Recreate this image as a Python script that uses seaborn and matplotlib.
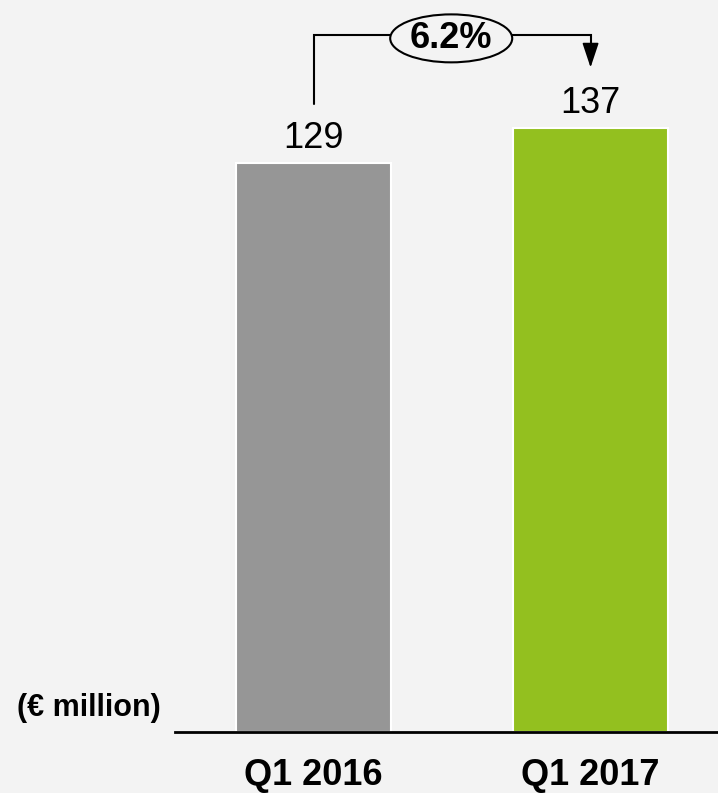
import matplotlib
matplotlib.use("Agg")
import matplotlib.pyplot as plt
from matplotlib.patches import Ellipse
import seaborn as sns
import pandas as pd

## chart data
quarters = ["Q1 2016", "Q1 2017"]
values = [129, 137]
growth_label = "6.2%"
unit_label = "(€ million)"
bar_colors = ["#969696", "#93c01f"]

bg = "#f3f3f3"

sns.set_theme(style="white")
plt.rcParams['font.family'] = ['Liberation Sans', 'DejaVu Sans']
plt.rcParams['text.color'] = 'black'

df = pd.DataFrame({"quarter": quarters, "value": values})

fig = plt.figure(figsize=(7.18, 7.93), dpi=100, facecolor=bg)
ax = fig.add_axes([175 / 718, 61 / 793, 543 / 718, 732 / 793])
ax.set_facecolor(bg)

sns.barplot(data=df, x="quarter", y="value", hue="quarter", palette=bar_colors,
            saturation=1, width=0.56, edgecolor="white", linewidth=1.5,
            legend=False, ax=ax)

for cont in ax.containers:
    ax.bar_label(cont, fmt="%d", padding=5, fontsize=26, color="black")

ax.set_xlim(-0.5, 1.46)
ax.set_ylim(0, 166)
ax.set_xlabel("")
ax.set_ylabel("")
ax.set_yticks([])
ax.tick_params(axis="x", length=0, pad=19)
for lbl in ax.get_xticklabels():
    lbl.set_fontsize(26)
    lbl.set_fontweight("bold")
    lbl.set_color("black")

for side in ["top", "right", "left"]:
    ax.spines[side].set_visible(False)
ax.spines["bottom"].set_linewidth(2)
ax.spines["bottom"].set_color("black")

# growth bracket between the two bars
y_top = 158
ax.plot([0, 0, 1, 1], [142.5, y_top, y_top, 155], color="black", lw=1.5,
        clip_on=False, solid_joinstyle="miter")
ax.annotate("", xy=(1, 150.7), xytext=(1, 155.5),
            arrowprops=dict(arrowstyle="-|>,head_length=0.9,head_width=0.3",
                            color="black", lw=1.2, mutation_scale=17,
                            shrinkA=0, shrinkB=0),
            annotation_clip=False)
ell = Ellipse((0.497, 157.3), width=122 / 277, height=48 / 4.413,
              facecolor=bg, edgecolor="black", lw=1.5, clip_on=False, zorder=5)
ax.add_patch(ell)
ax.text(0.497, 157.3, growth_label, ha="center", va="center", fontsize=26,
        fontweight="bold", color="black", zorder=6)

fig.text(89 / 718, 1 - 708 / 793, unit_label, ha="center", va="center",
         fontsize=22, fontweight="bold", color="black")

fig.savefig("out.png", dpi=100, facecolor=bg)
